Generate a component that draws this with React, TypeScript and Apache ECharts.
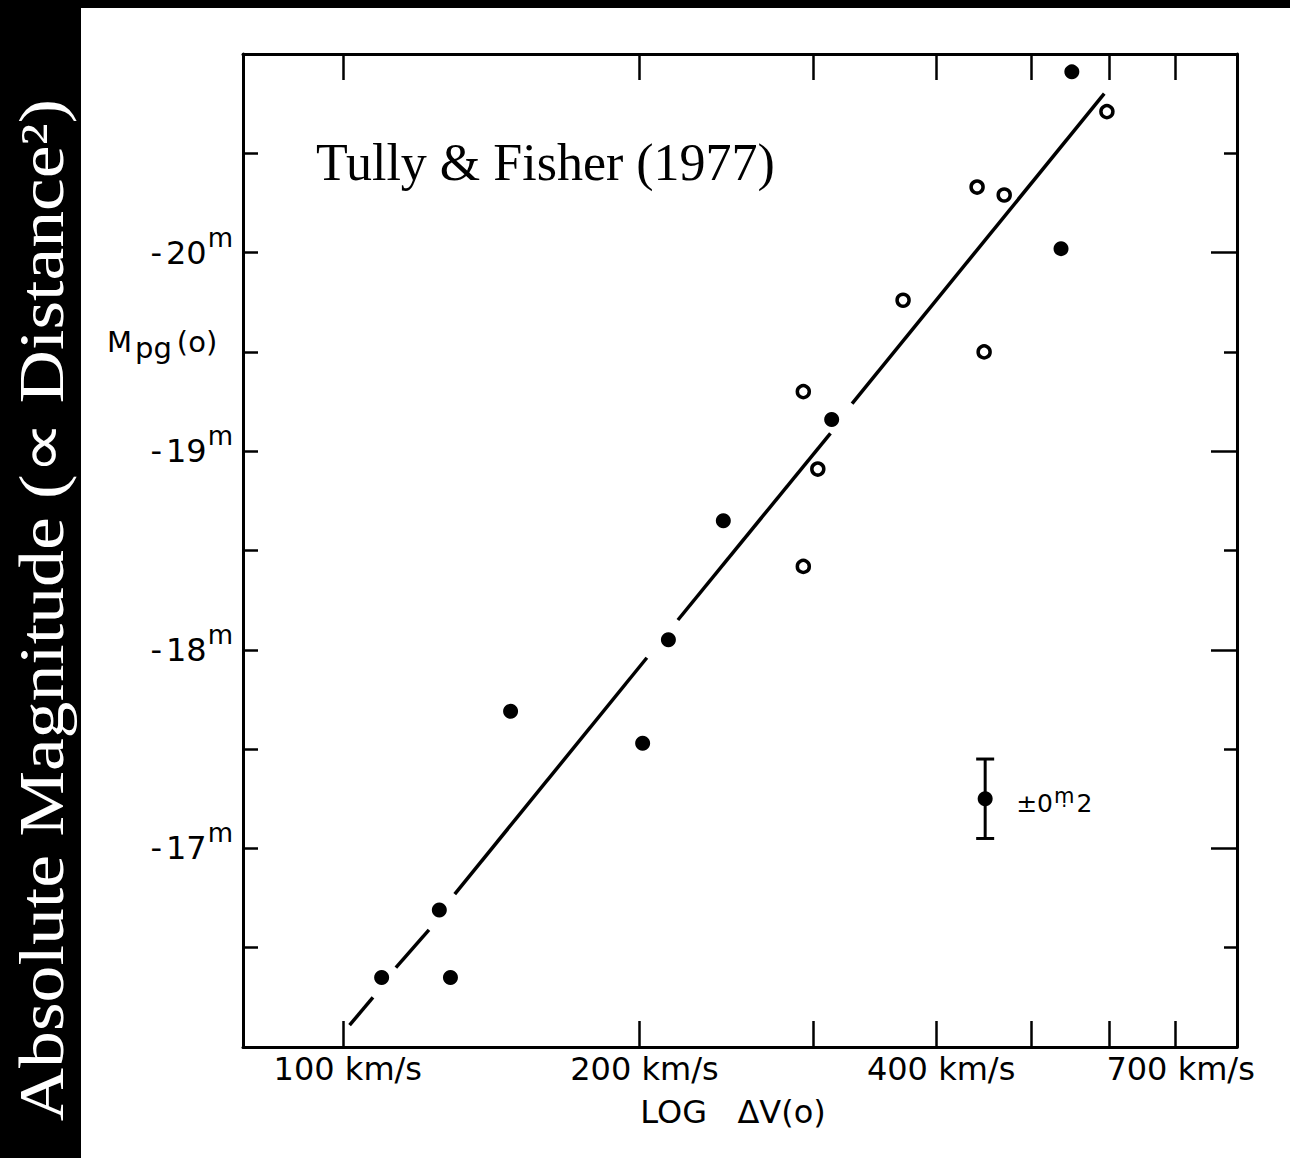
import React, { useEffect, useRef } from "react";
import * as echarts from "echarts";

// ---- data (velocity width in km/s, absolute magnitude) ----
const FILLED_V = [109.5, 125.3, 128.6, 148.0, 201.5, 214.0, 243.3, 313.4, 535.6, 549.3];
const FILLED_M = [-16.35, -16.69, -16.35, -17.69, -17.53, -18.05, -18.65, -19.16, -20.02, -20.91];
const OPEN_V = [293.3, 303.4, 293.3, 370.3, 440.2, 469.0, 447.5, 596.2];
const OPEN_M = [-19.3, -18.91, -18.42, -19.76, -20.33, -20.29, -19.5, -20.71];

// fitted relation, drawn as broken segments (gaps around the points)
const FIT_SEG_V = [
  [101.6, 107.3],
  [113.2, 122.3],
  [129.9, 203.5],
  [218.8, 312.5],
  [328.7, 592.5],
];
const FIT_SEG_M = [
  [-16.11, -16.25],
  [-16.4, -16.59],
  [-16.77, -17.96],
  [-18.15, -19.09],
  [-19.24, -20.8],
];

// typical error bar
const ERR_V = 448.6;
const ERR_M = -17.25;
const ERR_SIZE = 0.2;

// axes
const X_MIN_KMS = 79.2;
const X_MAX_KMS = 808;
const X_TICKS_KMS = [100, 200, 300, 400, 500, 600, 700];
const X_LABELS_KMS = [100, 200, 400, 700];
const Y_MIN = -21;
const Y_MAX = -16;
const Y_LABELS = [-20, -19, -18, -17];

const SANS = "DejaVu Sans";
const SERIF = "Liberation Serif";

export default function App() {
  const ref = useRef<HTMLDivElement>(null);

  useEffect(() => {
    if (!ref.current) return;
    const chart = echarts.init(ref.current, null, { renderer: "svg" });
    const lg = (v: number) => Math.log10(v);

    const xCommon = {
      type: "value",
      min: lg(X_MIN_KMS),
      max: lg(X_MAX_KMS),
      splitLine: { show: false },
      axisLine: { show: true, onZero: false, lineStyle: { color: "#000", width: 3 } },
      axisTick: {
        show: true,
        inside: true,
        length: 26,
        customValues: X_TICKS_KMS.map(lg),
        lineStyle: { color: "#000", width: 2.5 },
      },
    };

    const lineSeries = FIT_SEG_V.map((seg, i) => ({
      type: "line",
      xAxisIndex: 0,
      yAxisIndex: 0,
      data: seg.map((v, j) => [lg(v), FIT_SEG_M[i][j]]),
      showSymbol: false,
      symbol: "none",
      lineStyle: { color: "#000", width: 3.5, opacity: 1 },
      silent: true,
      z: 2,
    }));

    const option: any = {
      animation: false,
      backgroundColor: "#fff",
      grid: { left: 243, right: 53, top: 54, bottom: 111 },
      xAxis: [
        {
          ...xCommon,
          position: "bottom",
          name: "LOG   ΔV(o)",
          nameLocation: "middle",
          nameGap: 49,
          nameTextStyle: { fontFamily: SANS, fontSize: 32, color: "#000", padding: [0, 14, 0, 0] },
          axisLabel: {
            show: true,
            customValues: X_LABELS_KMS.map(lg),
            margin: 6,
            padding: [0, 0, 0, 10],
            fontFamily: SANS,
            fontSize: 32,
            color: "#000",
            formatter: (v: number) => `${Math.round(Math.pow(10, v))} km/s`,
          },
        },
        {
          ...xCommon,
          position: "top",
          axisLabel: { show: false },
        },
      ],
      yAxis: [
        {
          type: "value",
          inverse: true,
          min: Y_MIN,
          max: Y_MAX,
          interval: 0.5,
          position: "left",
          splitLine: { show: false },
          axisLine: { show: true, onZero: false, lineStyle: { color: "#000", width: 3 } },
          axisTick: { show: true, inside: true, length: 15, lineStyle: { color: "#000", width: 2.5 } },
          axisLabel: {
            show: true,
            customValues: Y_LABELS,
            margin: 10,
            formatter: (v: number) => `{d|-}{a|${Math.abs(v)}}{m|m}`,
            rich: {
              d: { fontFamily: SANS, fontSize: 32, color: "#000", padding: [0, 4, 0, 0] },
              a: { fontFamily: SANS, fontSize: 32, color: "#000" },
              m: { fontFamily: SANS, fontSize: 26, color: "#000", padding: [0, 0, 30, 1] },
            },
          },
        },
        {
          type: "value",
          inverse: true,
          min: Y_MIN,
          max: Y_MAX,
          interval: 1,
          position: "right",
          splitLine: { show: false },
          axisLine: { show: true, onZero: false, lineStyle: { color: "#000", width: 3 } },
          axisTick: { show: true, inside: true, length: 26, lineStyle: { color: "#000", width: 2.5 } },
          minorTick: { show: true, splitNumber: 2, length: 13, lineStyle: { color: "#000", width: 2.5 } },
          axisLabel: { show: false },
        },
      ],
      series: [
        ...lineSeries,
        {
          type: "scatter",
          xAxisIndex: 0,
          yAxisIndex: 0,
          data: FILLED_V.map((v, i) => [lg(v), FILLED_M[i]]),
          symbol: "circle",
          symbolSize: 15,
          itemStyle: { color: "#000", opacity: 1 },
          z: 3,
        },
        {
          type: "scatter",
          xAxisIndex: 0,
          yAxisIndex: 0,
          data: OPEN_V.map((v, i) => [lg(v), OPEN_M[i]]),
          symbol: "circle",
          symbolSize: 12,
          itemStyle: { color: "#fff", borderColor: "#000", borderWidth: 3.5, opacity: 1 },
          z: 3,
        },
        {
          type: "custom",
          xAxisIndex: 0,
          yAxisIndex: 0,
          clip: false,
          encode: { x: 0, y: 1 },
          data: [[lg(ERR_V), ERR_M, ERR_SIZE]],
          renderItem: (params: any, api: any) => {
            const x = api.value(0);
            const y = api.value(1);
            const e = api.value(2);
            const c = api.coord([x, y]);
            const t = api.coord([x, y - e]);
            const b = api.coord([x, y + e]);
            const ls = { stroke: "#000", lineWidth: 3 };
            return {
              type: "group",
              children: [
                { type: "line", shape: { x1: c[0], y1: t[1], x2: c[0], y2: b[1] }, style: ls },
                { type: "line", shape: { x1: c[0] - 9, y1: t[1], x2: c[0] + 9, y2: t[1] }, style: ls },
                { type: "line", shape: { x1: c[0] - 9, y1: b[1], x2: c[0] + 9, y2: b[1] }, style: ls },
                { type: "circle", shape: { cx: c[0], cy: c[1], r: 7.5 }, style: { fill: "#000" } },
                {
                  type: "text",
                  x: c[0] + 31,
                  y: c[1] + 5,
                  style: {
                    text: "{a|±0}{m|ṃ}{a|2}",
                    align: "left",
                    verticalAlign: "middle",
                    rich: {
                      a: { fontFamily: SANS, fontSize: 25, color: "#000" },
                      m: { fontFamily: SANS, fontSize: 21, color: "#000", padding: [0, 2, 16, 1] },
                    },
                  },
                },
              ],
            };
          },
          z: 4,
        },
      ],
      graphic: [
        { type: "rect", left: 0, top: 0, shape: { width: 81, height: 1158 }, style: { fill: "#000" }, z: -1 },
        { type: "rect", left: 0, top: 0, shape: { width: 1290, height: 8 }, style: { fill: "#000" }, z: -1 },
        {
          type: "text",
          x: 42,
          y: 610,
          rotation: Math.PI / 2,
          scaleX: 1.17,
          style: {
            text: "Absolute Magnitude (∝ Distance²)",
            fontFamily: SERIF,
            fontSize: 63,
            fill: "#fff",
            align: "center",
            verticalAlign: "middle",
          },
        },
        {
          type: "text",
          x: 316,
          y: 162,
          style: {
            text: "Tully & Fisher (1977)",
            fontFamily: SERIF,
            fontSize: 52,
            fill: "#000",
            align: "left",
            verticalAlign: "middle",
          },
        },
        {
          type: "text",
          x: 107,
          y: 342,
          style: {
            text: "{M|M}{s|pg}{o|(o)}",
            align: "left",
            verticalAlign: "middle",
            rich: {
              M: { fontFamily: SANS, fontSize: 29, color: "#000" },
              s: { fontFamily: SANS, fontSize: 29, color: "#000", padding: [12, 3, 0, 3] },
              o: { fontFamily: SANS, fontSize: 29, color: "#000", padding: [0, 0, 0, 2] },
            },
          },
        },
      ],
    };

    chart.setOption(option);
    return () => chart.dispose();
  }, []);

  return (
    <div
      ref={ref}
      style={{ position: "absolute", left: 0, top: 0, width: 1290, height: 1158 }}
    />
  );
}
